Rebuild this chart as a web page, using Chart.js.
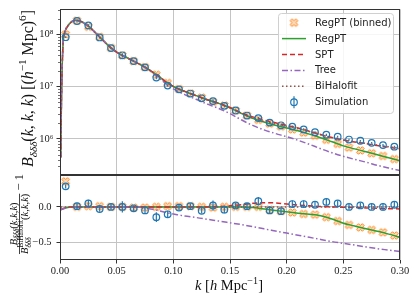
<!DOCTYPE html>
<html>
<head>
<meta charset="utf-8">
<script src="https://cdn.jsdelivr.net/npm/chart.js@4.4.0/dist/chart.umd.min.js"></script>
<style>
  html, body { margin: 0; padding: 0; background: #fff; }
  #wrap { position: relative; width: 416px; height: 302px; }
  canvas { position: absolute; left: 0; top: 0; }
</style>
</head>
<body>
<div id="wrap">
  <canvas id="top" width="416" height="302"></canvas>
  <canvas id="bottom" width="416" height="302"></canvas>
</div>
<script>
// bin centres (simulation + binned RegPT)
const kBins = [0.005, 0.015, 0.025, 0.035, 0.045, 0.055, 0.065, 0.075, 0.085, 0.095,
               0.105, 0.115, 0.125, 0.135, 0.145, 0.155, 0.165, 0.175, 0.185, 0.195,
               0.205, 0.215, 0.225, 0.235, 0.245, 0.255, 0.265, 0.275, 0.285, 0.295];

// top panel: B(k,k,k) at bin centres
const simTop = [8.9e7, 1.82e8, 1.5e8, 8.8e7, 5.5e7, 4.0e7, 3.1e7, 2.35e7, 1.5e7, 1.05e7,
                8.9e6, 7.4e6, 6.0e6, 5.3e6, 4.3e6, 3.5e6, 2.8e6, 2.5e6, 2.05e6, 1.82e6,
                1.72e6, 1.52e6, 1.34e6, 1.2e6, 1.1e6, 9.7e5, 9.2e5, 8.4e5, 7.6e5, 7.1e5];
const binnedTop = [1.0e8, 1.84e8, 1.41e8, 9.0e7, 5.56e7, 3.98e7, 3.09e7, 2.37e7, 1.70e7, 1.18e7,
                   9.0e6, 7.4e6, 6.2e6, 5.1e6, 4.37e6, 3.5e6, 2.79e6, 2.32e6, 1.96e6, 1.72e6,
                   1.52e6, 1.32e6, 1.15e6, 9.6e5, 8.0e5, 6.8e5, 6.0e5, 5.3e5, 4.7e5, 4.1e5];
// relative error of the simulation
const simErr = [0.03, 0.05, 0.05, 0.04, 0.04, 0.08, 0.04, 0.04, 0.07, 0.05,
                0.04, 0.04, 0.04, 0.07, 0.05, 0.04, 0.04, 0.06, 0.04, 0.04,
                0.05, 0.05, 0.04, 0.05, 0.04, 0.04, 0.04, 0.04, 0.05, 0.04];

// bottom panel: ratio to BiHalofit - 1 at bin centres
const simRatio = [0.29, 0.01, 0.05, -0.03, 0.0, 0.0, -0.02, -0.05, -0.145, -0.105,
                  -0.01, 0.01, -0.055, 0.02, -0.04, 0.02, 0.01, 0.08, -0.05, -0.06,
                  0.04, 0.04, 0.03, 0.07, 0.05, 0.0, 0.02, 0.0, 0.0, 0.03];
const binnedRatio = [0.36, 0.0, 0.01, 0.01, 0.0, 0.0, -0.01, -0.01, 0.0, 0.01,
                     0.01, 0.01, 0.0, -0.01, 0.0, 0.0, 0.0, 0.0, -0.04, -0.06,
                     -0.08, -0.10, -0.11, -0.145, -0.20, -0.255, -0.29, -0.325, -0.36, -0.405];

// k grid of the theory curves
const kLine = [0.0007, 0.001, 0.0015, 0.002, 0.0025, 0.003, 0.004, 0.005, 0.006, 0.008,
               0.010, 0.012, 0.014, 0.016, 0.018, 0.02, 0.025, 0.03, 0.035, 0.04,
               0.045, 0.05, 0.055, 0.06, 0.065, 0.07, 0.075, 0.08, 0.085, 0.09,
               0.095, 0.10, 0.11, 0.12, 0.13, 0.14, 0.15, 0.16, 0.17, 0.18,
               0.19, 0.20, 0.21, 0.22, 0.23, 0.24, 0.25, 0.26, 0.27, 0.28,
               0.29, 0.30];

const bihalofitTop = [4.57e5, 2.0e6, 1.0e7, 2.82e7, 5.62e7, 8.51e7, 1.10e8, 1.26e8, 1.38e8, 1.58e8,
                      1.74e8, 1.84e8, 1.88e8, 1.86e8, 1.80e8, 1.72e8, 1.45e8, 1.15e8, 9.0e7, 7.0e7,
                      5.56e7, 4.62e7, 3.98e7, 3.51e7, 3.09e7, 2.72e7, 2.37e7, 2.02e7, 1.70e7, 1.41e7,
                      1.17e7, 1.01e7, 8.13e6, 6.76e6, 5.62e6, 4.79e6, 3.94e6, 3.09e6, 2.51e6, 2.16e6,
                      1.93e6, 1.74e6, 1.57e6, 1.38e6, 1.20e6, 1.06e6, 9.55e5, 8.81e5, 8.22e5, 7.59e5,
                      7.08e5, 6.68e5];
const treeTop = [4.39e5, 1.93e6, 9.67e6, 2.74e7, 5.47e7, 8.31e7, 1.08e8, 1.24e8, 1.36e8, 1.57e8,
                 1.74e8, 1.84e8, 1.88e8, 1.86e8, 1.80e8, 1.72e8, 1.45e8, 1.15e8, 9.0e7, 7.0e7,
                 5.56e7, 4.62e7, 3.98e7, 3.51e7, 3.09e7, 2.71e7, 2.33e7, 1.96e7, 1.62e7, 1.32e7,
                 1.07e7, 9.09e6, 7.07e6, 5.75e6, 4.64e6, 3.83e6, 3.05e6, 2.32e6, 1.81e6, 1.49e6,
                 1.27e6, 1.10e6, 9.4e5, 7.87e5, 6.48e5, 5.41e5, 4.63e5, 4.05e5, 3.58e5, 3.11e5,
                 2.76e5, 2.47e5];
const sptTop = [4.39e5, 1.93e6, 9.67e6, 2.74e7, 5.47e7, 8.31e7, 1.08e8, 1.24e8, 1.36e8, 1.57e8,
                1.74e8, 1.84e8, 1.88e8, 1.86e8, 1.80e8, 1.72e8, 1.45e8, 1.15e8, 9.0e7, 7.0e7,
                5.56e7, 4.62e7, 3.98e7, 3.51e7, 3.09e7, 2.72e7, 2.37e7, 2.02e7, 1.70e7, 1.41e7,
                1.17e7, 1.01e7, 8.13e6, 6.76e6, 5.62e6, 4.81e6, 4.0e6, 3.18e6, 2.64e6, 2.29e6,
                2.04e6, 1.81e6, 1.61e6, 1.40e6, 1.21e6, 1.06e6, 9.5e5, 8.72e5, 8.1e5, 7.44e5,
                6.9e5, 6.48e5];
const regptTop = [4.39e5, 1.93e6, 9.67e6, 2.74e7, 5.47e7, 8.31e7, 1.08e8, 1.24e8, 1.36e8, 1.57e8,
                  1.74e8, 1.84e8, 1.88e8, 1.86e8, 1.80e8, 1.72e8, 1.45e8, 1.15e8, 9.0e7, 7.0e7,
                  5.56e7, 4.62e7, 3.98e7, 3.51e7, 3.09e7, 2.72e7, 2.37e7, 2.02e7, 1.70e7, 1.41e7,
                  1.17e7, 1.01e7, 8.13e6, 6.76e6, 5.62e6, 4.79e6, 3.94e6, 3.09e6, 2.48e6, 2.10e6,
                  1.83e6, 1.62e6, 1.43e6, 1.235e6, 1.05e6, 8.8e5, 7.35e5, 6.43e5, 5.67e5, 4.97e5,
                  4.35e5, 3.81e5];

const bihalofitRatio = [0, 0, 0, 0, 0, 0, 0, 0, 0, 0, 0, 0, 0, 0, 0, 0, 0, 0, 0, 0,
                        0, 0, 0, 0, 0, 0, 0, 0, 0, 0, 0, 0, 0, 0, 0, 0, 0, 0, 0, 0,
                        0, 0, 0, 0, 0, 0, 0, 0, 0, 0, 0, 0];
const treeRatio = [-0.04, -0.037, -0.033, -0.03, -0.027, -0.024, -0.019, -0.015, -0.011, -0.005,
                   0, 0, 0, 0, 0, 0, 0, 0, 0, 0,
                   0, 0, 0, 0, 0, -0.005, -0.015, -0.03, -0.045, -0.065,
                   -0.085, -0.10, -0.13, -0.15, -0.175, -0.20, -0.225, -0.25, -0.28, -0.31,
                   -0.34, -0.37, -0.40, -0.43, -0.46, -0.49, -0.515, -0.54, -0.565, -0.59,
                   -0.61, -0.63];
const sptRatio = [-0.04, -0.037, -0.033, -0.03, -0.027, -0.024, -0.019, -0.015, -0.011, -0.005,
                  0, 0, 0, 0, 0, 0, 0, 0, 0, 0,
                  0, 0, 0, 0, 0, 0, 0, 0, 0, 0,
                  0, 0, 0, 0, 0, 0.005, 0.015, 0.03, 0.05, 0.06,
                  0.055, 0.04, 0.025, 0.015, 0.005, 0.0, -0.005, -0.01, -0.015, -0.02,
                  -0.025, -0.03];
const regptRatio = [-0.04, -0.037, -0.033, -0.03, -0.027, -0.024, -0.019, -0.015, -0.011, -0.005,
                    0, 0, 0, 0, 0, 0, 0, 0, 0, 0,
                    0, 0, 0, 0, 0, 0, 0, 0, 0, 0,
                    0, 0, 0, 0, 0, 0, 0, 0, -0.01, -0.03,
                    -0.05, -0.07, -0.09, -0.105, -0.125, -0.17, -0.23, -0.27, -0.31, -0.345,
                    -0.385, -0.43];

// ticks
const xTicks = [0, 0.05, 0.10, 0.15, 0.20, 0.25, 0.30];
const xTickLabels = ['0.00', '0.05', '0.10', '0.15', '0.20', '0.25', '0.30'];
const yTopTicks = [1e6, 1e7, 1e8];
const yTopTickLabels = ['10⁶', '10⁷', '10⁸'];
const yTopMinor = [3e5, 4e5, 5e5, 6e5, 7e5, 8e5, 9e5, 2e6, 3e6, 4e6, 5e6, 6e6, 7e6, 8e6, 9e6,
                   2e7, 3e7, 4e7, 5e7, 6e7, 7e7, 8e7, 9e7, 2e8, 3e8];
const yBotTicks = [-0.5, 0.0];
const yBotTickLabels = ['−0.5', '0.0'];

const legendLabels = ['RegPT (binned)', 'RegPT', 'SPT', 'Tree', 'BiHalofit', 'Simulation'];

const BLUE = '#1f77b4', ORANGE = '#ff7f0e', GREEN = '#2ca02c', RED = '#d62728',
      PURPLE = '#9467bd', BROWN = '#8c564b';
const GRID = '#c4c4c4', AXIS = '#333333';
const SERIF = '"Liberation Serif", "DejaVu Serif", serif';
const DASH = { spt: [5, 3], tree: [6, 2.5, 1.5, 2.5], bihalofit: [1.5, 2.5] };

Chart.defaults.font.family = SERIF;

// filled "X" marker like matplotlib's 'X'
function makeXMarker() {
  const c = document.createElement('canvas');
  c.width = 11; c.height = 11;
  const g = c.getContext('2d');
  const pts = [[0, -1], [1, -2], [2, -1], [1, 0], [2, 1], [1, 2], [0, 1], [-1, 2], [-2, 1], [-1, 0], [-2, -1], [-1, -2]];
  g.beginPath();
  pts.forEach(([px, py], i) => {
    const X = 5.5 + px * 1.9, Y = 5.5 + py * 1.9;
    if (i === 0) g.moveTo(X, Y); else g.lineTo(X, Y);
  });
  g.closePath();
  g.fillStyle = 'rgba(255,127,14,0.28)';
  g.fill();
  g.strokeStyle = ORANGE;
  g.lineWidth = 1;
  g.stroke();
  return c;
}
const xMarker = makeXMarker();

// --- small rich text helper for the math labels ---
function fnt(size, italic) {
  return (italic ? 'italic ' : '') + size.toFixed(2) + 'px ' + SERIF;
}
function buildRich(ctx, parts, base) {
  let w = 0, prevX = 0, prevW = 0;
  const items = parts.map(p => {
    const [t, rel, it, dy, stack] = p;
    const f = fnt(base * rel, it);
    ctx.font = f;
    const pw = ctx.measureText(t).width;
    let x;
    if (stack) { x = prevX; w = prevX + Math.max(prevW, pw); }
    else { x = w; prevX = w; prevW = pw; w += pw; }
    return { t, f, x, dy: (dy || 0) * base };
  });
  return { items, width: w, base };
}
function fitRich(ctx, parts, target) {
  const w10 = buildRich(ctx, parts, 10).width;
  return buildRich(ctx, parts, 10 * target / w10);
}
function drawRich(ctx, lay, x, y) {
  lay.items.forEach(it => { ctx.font = it.f; ctx.fillText(it.t, x + it.x, y + it.dy); });
}

const yTitleTop = [['B', 1, true], ['δδδ', 0.7, true, 0.25], ['(', 1], ['k', 1, true], [', ', 1],
                   ['k', 1, true], [', ', 1], ['k', 1, true], [') [(', 1], ['h', 1, true],
                   ['−1', 0.7, false, -0.42], [' Mpc)', 1], ['6', 0.7, false, -0.45], [']', 1]];
const numParts = [['B', 1, true], ['δδδ', 0.7, true, 0.25], ['(', 1], ['k', 1, true], [',', 1],
                  ['k', 1, true], [',', 1], ['k', 1, true], [')', 1]];
const denParts = [['B', 1, true], ['BiHalofit', 0.7, false, -0.42], ['δδδ', 0.7, true, 0.28, true],
                  ['(', 1], ['k', 1, true], [',', 1], ['k', 1, true], [',', 1], ['k', 1, true], [')', 1]];
const tailParts = [['− 1', 1.2]];
const xTitle = [['k', 1, true], [' [', 1], ['h', 1, true], [' Mpc', 1], ['−1', 0.7, false, -0.42], [']', 1]];

function frame(chart) {
  const { ctx, chartArea: a } = chart;
  ctx.save();
  ctx.strokeStyle = AXIS;
  ctx.lineWidth = 1;
  ctx.strokeRect(Math.round(a.left) + 0.5, Math.round(a.top) + 0.5,
                 Math.round(a.right - a.left) - 1, Math.round(a.bottom - a.top) - 1);
  ctx.restore();
}

function errorBars(chart, lo, hi) {
  const { ctx } = chart;
  const xs = chart.scales.x, ys = chart.scales.y;
  ctx.save();
  ctx.beginPath();
  ctx.rect(chart.chartArea.left, chart.chartArea.top, chart.chartArea.width, chart.chartArea.height);
  ctx.clip();
  ctx.strokeStyle = BLUE;
  ctx.lineWidth = 1.2;
  kBins.forEach((k, i) => {
    const x = xs.getPixelForValue(k);
    ctx.beginPath();
    ctx.moveTo(x, ys.getPixelForValue(lo(i)));
    ctx.lineTo(x, ys.getPixelForValue(hi(i)));
    ctx.stroke();
  });
  ctx.restore();
}

const topPlugin = {
  id: 'topExtras',
  afterDatasetsDraw(chart) {
    errorBars(chart, i => simTop[i] * (1 - simErr[i]), i => simTop[i] * (1 + simErr[i]));
  },
  afterDraw(chart) {
    const { ctx } = chart;
    const ys = chart.scales.y;
    const left = chart.chartArea.left;
    frame(chart);
    // minor ticks on the log axis
    ctx.save();
    ctx.strokeStyle = AXIS;
    ctx.lineWidth = 0.7;
    yTopMinor.forEach(v => {
      const y = Math.round(ys.getPixelForValue(v)) + 0.5;
      if (y < chart.chartArea.top || y > chart.chartArea.bottom) return;
      ctx.beginPath(); ctx.moveTo(left, y); ctx.lineTo(left - 2, y); ctx.stroke();
    });
    ctx.restore();

    // y title
    ctx.save();
    ctx.fillStyle = '#111';
    const lay = fitRich(ctx, yTitleTop, 157);
    ctx.translate(29.2, 88.5);
    ctx.rotate(-Math.PI / 2);
    ctx.textBaseline = 'alphabetic';
    drawRich(ctx, lay, -lay.width / 2, 0.25 * lay.base);
    ctx.restore();

    // legend
    ctx.save();
    ctx.beginPath();
    ctx.roundRect(278.5, 13.5, 115, 100, 3);
    ctx.fillStyle = 'rgba(255,255,255,0.85)';
    ctx.fill();
    ctx.strokeStyle = '#d0d0d0';
    ctx.lineWidth = 1;
    ctx.stroke();
    const styles = [
      { marker: true }, { color: GREEN, dash: [] }, { color: RED, dash: DASH.spt },
      { color: PURPLE, dash: DASH.tree }, { color: BROWN, dash: DASH.bihalofit }, { sim: true }
    ];
    legendLabels.forEach((lab, i) => {
      const y = 22.7 + i * 15.9;
      const s = styles[i];
      if (s.marker) {
        ctx.drawImage(xMarker, 294 - 5.5, y - 5.5);
      } else if (s.sim) {
        ctx.strokeStyle = BLUE; ctx.lineWidth = 1.2; ctx.setLineDash([]);
        ctx.beginPath(); ctx.moveTo(294, y - 6); ctx.lineTo(294, y + 6); ctx.stroke();
        ctx.beginPath(); ctx.arc(294, y, 3.3, 0, Math.PI * 2); ctx.stroke();
      } else {
        ctx.strokeStyle = s.color; ctx.lineWidth = 1.5; ctx.setLineDash(s.dash);
        ctx.beginPath(); ctx.moveTo(282, y); ctx.lineTo(306, y); ctx.stroke();
        ctx.setLineDash([]);
      }
      ctx.fillStyle = '#222';
      ctx.font = '10px "DejaVu Sans"';
      ctx.textBaseline = 'middle';
      ctx.fillText(lab, 315, y + 0.5);
    });
    ctx.restore();
  }
};

const bottomPlugin = {
  id: 'bottomExtras',
  afterDatasetsDraw(chart) {
    errorBars(chart, i => simRatio[i] - simErr[i], i => simRatio[i] + simErr[i]);
  },
  afterDraw(chart) {
    const { ctx } = chart;
    frame(chart);
    ctx.save();
    ctx.fillStyle = '#111';
    ctx.strokeStyle = '#111';
    ctx.textBaseline = 'alphabetic';

    // y title: fraction - 1
    const F = 10.5;
    const num = buildRich(ctx, numParts, F);
    const den = buildRich(ctx, denParts, F);
    const tail = buildRich(ctx, tailParts, F);
    const wf = Math.max(num.width, den.width);
    const total = wf + 0.3 * F + tail.width;
    ctx.translate(19.5, 214);
    ctx.rotate(-Math.PI / 2);
    const u0 = -total / 2;
    drawRich(ctx, num, u0 + (wf - num.width) / 2, -0.28 * F);
    drawRich(ctx, den, u0 + (wf - den.width) / 2, 0.8 * F);
    ctx.lineWidth = 0.8;
    ctx.beginPath(); ctx.moveTo(u0, 0); ctx.lineTo(u0 + wf, 0); ctx.stroke();
    drawRich(ctx, tail, u0 + wf + 0.3 * F, 0.3 * F);
    ctx.restore();

    // x title
    ctx.save();
    ctx.fillStyle = '#111';
    ctx.textBaseline = 'alphabetic';
    const xl = fitRich(ctx, xTitle, 68);
    drawRich(ctx, xl, 229 - xl.width / 2, 290);
    ctx.restore();
  }
};

function pts(xs, ys) { return xs.map((x, i) => ({ x, y: ys[i] })); }

function datasets(sim, binned, bih, tree, spt, regpt) {
  return [
    { label: 'Simulation', data: pts(kBins, sim), showLine: false, pointStyle: 'circle', pointRadius: 3.3,
      pointBorderColor: BLUE, pointBackgroundColor: 'rgba(0,0,0,0)', pointBorderWidth: 1.2, order: 0 },
    { label: 'BiHalofit', data: pts(kLine, bih), borderColor: BROWN, borderWidth: 1.5,
      borderDash: DASH.bihalofit, pointRadius: 0, cubicInterpolationMode: 'monotone', order: 1 },
    { label: 'Tree', data: pts(kLine, tree), borderColor: PURPLE, borderWidth: 1.5,
      borderDash: DASH.tree, pointRadius: 0, cubicInterpolationMode: 'monotone', order: 2 },
    { label: 'SPT', data: pts(kLine, spt), borderColor: RED, borderWidth: 1.5,
      borderDash: DASH.spt, pointRadius: 0, cubicInterpolationMode: 'monotone', order: 3 },
    { label: 'RegPT', data: pts(kLine, regpt), borderColor: GREEN, borderWidth: 1.5,
      pointRadius: 0, cubicInterpolationMode: 'monotone', order: 4 },
    { label: 'RegPT (binned)', data: pts(kBins, binned), showLine: false, pointStyle: xMarker,
      pointRadius: 5, order: 5 }
  ];
}

const common = {
  responsive: false,
  animation: false,
  devicePixelRatio: 1,
  events: [],
  plugins: { legend: { display: false }, tooltip: { enabled: false } }
};

// upper panel
new Chart(document.getElementById('top'), {
  type: 'line',
  data: { datasets: datasets(simTop, binnedTop, bihalofitTop, treeTop, sptTop, regptTop) },
  options: Object.assign({}, common, {
    layout: { padding: { left: 0, right: 16, top: 7, bottom: 127 } },
    scales: {
      x: {
        type: 'linear', min: 0, max: 0.3,
        afterBuildTicks: s => { s.ticks = xTicks.map(v => ({ value: v })); },
        ticks: { display: false },
        grid: { color: GRID, lineWidth: 1, drawTicks: false },
        border: { display: false },
        afterFit: s => { s.height = 0; }
      },
      y: {
        type: 'logarithmic', min: 2.03e5, max: 3.05e8,
        afterBuildTicks: s => { s.ticks = yTopTicks.map(v => ({ value: v, major: true })); },
        ticks: {
          autoSkip: false, padding: 3, color: '#222',
          font: { family: SERIF, size: 10.5 },
          callback: (v, i) => yTopTickLabels[i]
        },
        grid: { color: GRID, lineWidth: 1, tickColor: AXIS, tickLength: 3.5 },
        border: { display: false },
        afterFit: s => { s.width = 60; }
      }
    }
  }),
  plugins: [topPlugin]
});

// lower panel
new Chart(document.getElementById('bottom'), {
  type: 'line',
  data: { datasets: datasets(simRatio, binnedRatio, bihalofitRatio, treeRatio, sptRatio, regptRatio) },
  options: Object.assign({}, common, {
    layout: { padding: { left: 0, right: 16, top: 175, bottom: 0 } },
    scales: {
      x: {
        type: 'linear', min: 0, max: 0.3,
        afterBuildTicks: s => { s.ticks = xTicks.map(v => ({ value: v })); },
        ticks: {
          autoSkip: false, maxRotation: 0, padding: 1, color: '#222',
          font: { family: SERIF, size: 10.5 },
          callback: (v, i) => xTickLabels[i]
        },
        grid: { color: GRID, lineWidth: 1, tickColor: AXIS, tickLength: 3.5 },
        border: { display: false },
        afterFit: s => { s.height = 42; }
      },
      y: {
        type: 'linear', min: -0.75, max: 0.45,
        afterBuildTicks: s => { s.ticks = yBotTicks.map(v => ({ value: v })); },
        ticks: {
          autoSkip: false, padding: 5, color: '#222',
          font: { family: SERIF, size: 10.5 },
          callback: (v, i) => yBotTickLabels[i]
        },
        grid: { color: GRID, lineWidth: 1, tickColor: AXIS, tickLength: 3.5 },
        border: { display: false },
        afterFit: s => { s.width = 60; }
      }
    }
  }),
  plugins: [bottomPlugin]
});
</script>
</body>
</html>
